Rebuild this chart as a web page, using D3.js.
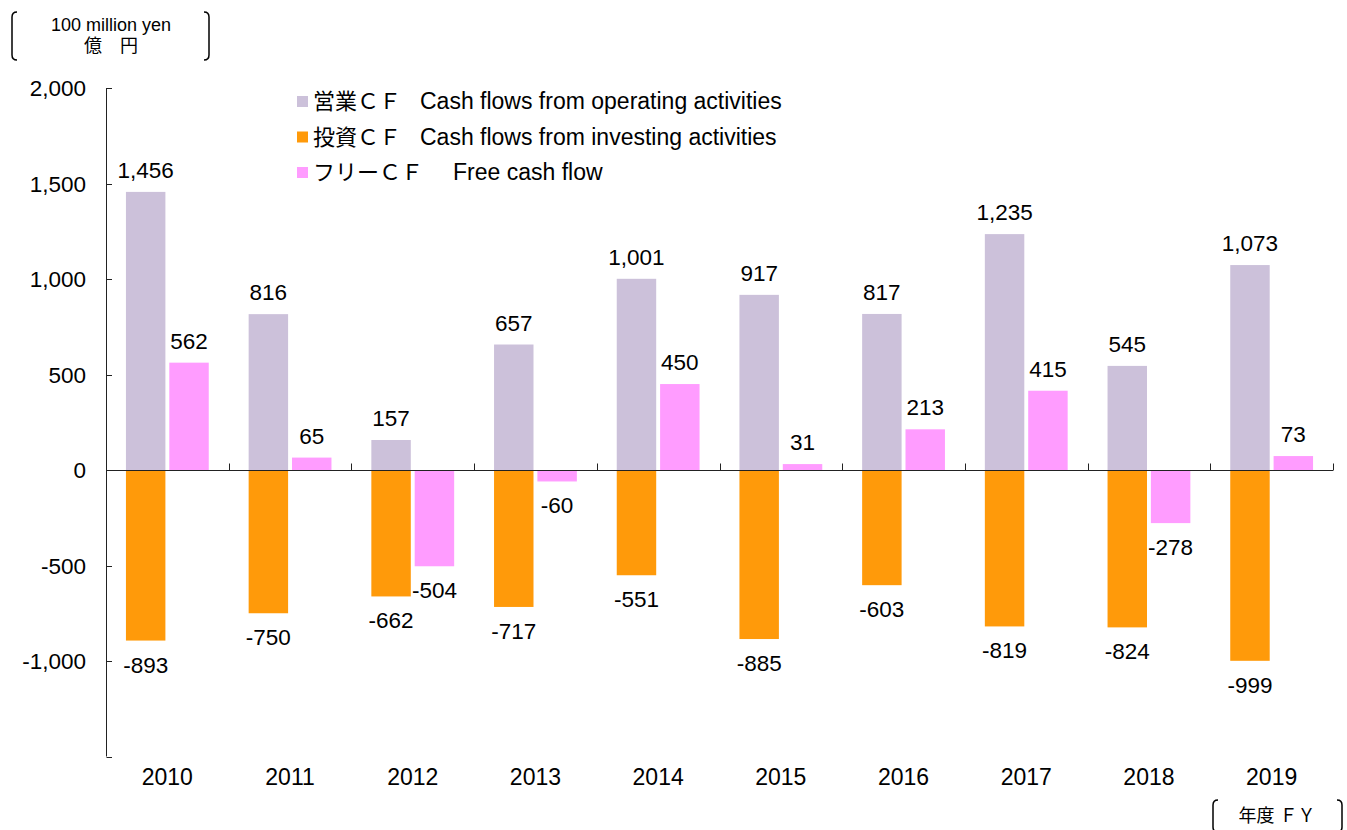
<!DOCTYPE html>
<html>
<head>
<meta charset="utf-8">
<script src="https://cdn.jsdelivr.net/npm/d3@7"></script>
<style>
  body { margin: 0; background: #fff; }
  text { font-family: "Liberation Sans", Arial, "Noto Sans CJK JP", sans-serif; fill: #000; }
</style>
</head>
<body>
<div id="chart"></div>
<script>
// data
const years = ['2010', '2011', '2012', '2013', '2014', '2015', '2016', '2017', '2018', '2019'];
const operating = [1456, 816, 157, 657, 1001, 917, 817, 1235, 545, 1073];
const investing = [-893, -750, -662, -717, -551, -885, -603, -819, -824, -999];
const freeCF = [562, 65, -504, -60, 450, 31, 213, 415, -278, 73];
const yTicks = [2000, 1500, 1000, 500, 0, -500, -1000, -1500];

const colors = { op: '#ccc1da', inv: '#ff9a0a', free: '#ff9cff' };

const width = 1347, height = 830;
const svg = d3.select('#chart').append('svg')
  .attr('width', width)
  .attr('height', height);

const x = d3.scaleBand().domain(years).range([106, 1333]);
const slot = d3.scaleBand().domain(['a', 'b']).range([0, x.bandwidth()])
  .paddingInner(0.09).paddingOuter(0.46);
const y = d3.scaleLinear().domain([-1500, 2000]).range([756.5, 88]);

// plain hyphen for negatives, like the original
const fmt = d3.formatLocale({ decimal: '.', thousands: ',', grouping: [3], currency: ['', ''], minus: '-' }).format(',');

// bars
const series = [
  { key: 'op', vals: operating, s: 'a' },
  { key: 'inv', vals: investing, s: 'a' },
  { key: 'free', vals: freeCF, s: 'b' }
];

series.forEach(function(ser) {
  const g = svg.append('g');
  g.selectAll('rect')
    .data(ser.vals)
    .join('rect')
    .attr('x', (d, i) => x(years[i]) + slot(ser.s))
    .attr('width', slot.bandwidth())
    .attr('y', d => y(Math.max(0, d)))
    .attr('height', d => Math.abs(y(d) - y(0)))
    .attr('fill', colors[ser.key]);

  g.selectAll('text')
    .data(ser.vals)
    .join('text')
    .attr('x', (d, i) => x(years[i]) + slot(ser.s) + slot.bandwidth() / 2)
    .attr('y', d => d >= 0 ? y(d) - 14 : y(d) + 32)
    .attr('text-anchor', 'middle')
    .style('font-size', '22.5px')
    .text(d => fmt(d));
});

// y axis
const axisColor = '#222';
svg.append('line')
  .attr('x1', 106.5).attr('x2', 106.5)
  .attr('y1', y(2000)).attr('y2', y(-1500))
  .attr('stroke', axisColor);

svg.append('g').selectAll('line')
  .data(yTicks)
  .join('line')
  .attr('x1', 106.5).attr('x2', 112)
  .attr('y1', d => Math.round(y(d)) + 0.5)
  .attr('y2', d => Math.round(y(d)) + 0.5)
  .attr('stroke', axisColor);

svg.append('g').selectAll('text')
  .data(yTicks.filter(d => d > -1500))
  .join('text')
  .attr('x', 86)
  .attr('y', d => y(d) + 8)
  .attr('text-anchor', 'end')
  .style('font-size', '22.5px')
  .text(d => fmt(d));

// zero line with category ticks
const zy = Math.round(y(0)) + 0.5;
svg.append('line')
  .attr('x1', 106).attr('x2', 1333)
  .attr('y1', zy).attr('y2', zy)
  .attr('stroke', axisColor);

svg.append('g').selectAll('line')
  .data(years.slice(1).map(d => x(d)).concat([x.range()[1]]))
  .join('line')
  .attr('x1', d => Math.round(d) + 0.5).attr('x2', d => Math.round(d) + 0.5)
  .attr('y1', zy).attr('y2', zy - 7)
  .attr('stroke', axisColor);

// x labels
svg.append('g').selectAll('text')
  .data(years)
  .join('text')
  .attr('x', d => x(d) + x.bandwidth() / 2)
  .attr('y', 785)
  .attr('text-anchor', 'middle')
  .style('font-size', '23px')
  .text(d => d);

// legend
const legend = [
  { c: colors.op, jp: '営業ＣＦ', en: 'Cash flows from operating activities', ex: 420 },
  { c: colors.inv, jp: '投資ＣＦ', en: 'Cash flows from investing activities', ex: 420 },
  { c: colors.free, jp: 'フリーＣＦ', en: 'Free cash flow', ex: 453 }
];
const lg = svg.append('g').selectAll('g')
  .data(legend)
  .join('g')
  .attr('transform', (d, i) => `translate(0, ${101 + i * 35.5})`);
lg.append('rect')
  .attr('x', 297).attr('y', -5)
  .attr('width', 11).attr('height', 11)
  .attr('fill', d => d.c);
lg.append('text')
  .attr('x', 313).attr('y', 8)
  .style('font-size', '22px')
  .text(d => d.jp);
lg.append('text')
  .attr('x', d => d.ex).attr('y', 8)
  .style('font-size', '23px')
  .text(d => d.en);

// bracket helper
function bracket(x0, y0, y1, dir) {
  const r = 5;
  return `M${x0 + dir * r},${y0} Q${x0},${y0} ${x0},${y0 + r} L${x0},${y1 - r} Q${x0},${y1} ${x0 + dir * r},${y1}`;
}

// unit label
svg.append('path').attr('d', bracket(12, 12, 60, 1))
  .attr('fill', 'none').attr('stroke', '#000').attr('stroke-width', 1.5);
svg.append('path').attr('d', bracket(209, 12, 60, -1))
  .attr('fill', 'none').attr('stroke', '#000').attr('stroke-width', 1.5);
svg.append('text').attr('x', 111).attr('y', 31)
  .attr('text-anchor', 'middle').style('font-size', '18px')
  .text('100 million yen');
svg.append('text').attr('x', 111).attr('y', 52)
  .attr('text-anchor', 'middle').style('font-size', '18px')
  .text('億　円');

// FY label
svg.append('path').attr('d', bracket(1213, 800, 832, 1))
  .attr('fill', 'none').attr('stroke', '#000').attr('stroke-width', 1.5);
svg.append('path').attr('d', bracket(1342, 800, 832, -1))
  .attr('fill', 'none').attr('stroke', '#000').attr('stroke-width', 1.5);
svg.append('text').attr('x', 1277).attr('y', 822)
  .attr('text-anchor', 'middle').style('font-size', '18px')
  .text('年度 ＦＹ');
</script>
</body>
</html>
